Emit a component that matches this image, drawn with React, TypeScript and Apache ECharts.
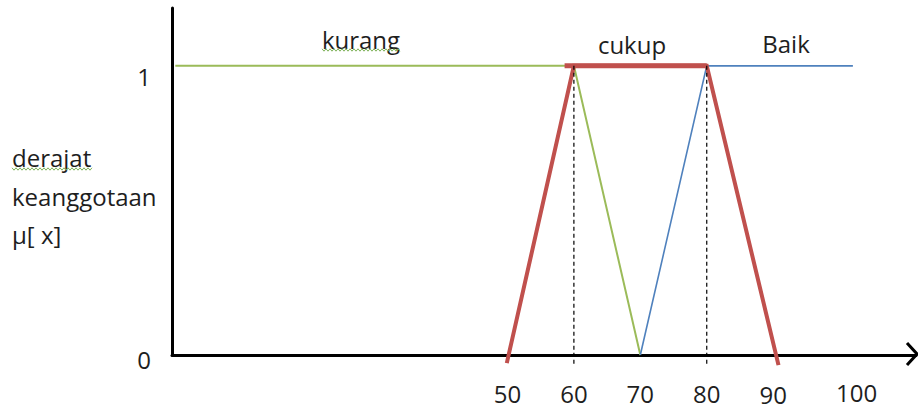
import React, { useEffect, useRef } from "react";
import * as echarts from "echarts";

// Membership functions (x value, degree of membership)
const kurangPoints: [number, number][] = [[0, 1], [60, 1], [70, 0]];
const cukupPoints: [number, number][] = [[49.9, -0.028], [60, 1], [80, 1], [90.8, -0.035]];
const cukupTopPoints: [number, number][] = [[58.6, 1], [80, 1]];
const baikPoints: [number, number][] = [[70, 0], [80, 1], [102, 1]];
const guideXs: number[] = [60, 80];
const guideYs: number[] = [1, -0.035];

const xTicks: number[] = [50, 60, 70, 80, 90, 100];
const yTicks: number[] = [0, 1];
const setNames: string[] = ["kurang", "cukup", "Baik"];
const yNameLines: string[] = ["derajat", "keanggotaan", "μ[ x]"];

export default function App() {
  const ref = useRef<HTMLDivElement>(null);

  useEffect(() => {
    if (!ref.current) return;
    const chart = echarts.init(ref.current, null, { renderer: "svg" });
    const font = "Open Sans";
    const fs = 24;
    const lh = 20;
    const textColor = "#1e1e1e";
    const green = "#9BBB59";
    const red = "#C0504D";
    const blue = "#4F81BD";

    const lineSeries = (name: string, data: [number, number][], color: string, width: number, z: number, type: any = "solid") => ({
      type: "line",
      name,
      data,
      symbol: "none",
      clip: false,
      silent: true,
      z,
      lineStyle: { color, width, type, cap: "butt", join: "miter" },
    });

    const wavy = (x0: number, x1: number, y: number) => {
      const pts: number[][] = [];
      let i = 0;
      for (let x = x0; x <= x1; x += 2, i++) pts.push([x, y + (i % 2 ? 1.2 : -1.2)]);
      return pts;
    };

    const textEl = (text: string, x: number, y: number, align: string) => ({
      type: "text",
      x,
      y,
      z: 10,
      silent: true,
      style: {
        text,
        fill: textColor,
        font: `${fs}px "${font}"`,
        align,
        verticalAlign: "middle",
      },
    });

    const tok = (padding: number[]) => ({ fontFamily: font, fontSize: fs, color: textColor, lineHeight: lh, padding });

    chart.setOption({
      animation: false,
      backgroundColor: "#ffffff",
      grid: { left: 172, right: 2, top: 8, bottom: 55 },
      xAxis: {
        type: "value",
        min: -0.5,
        max: 111.5,
        splitLine: { show: false },
        axisTick: { show: false },
        axisLine: { show: true, onZero: true, lineStyle: { color: "#000", width: 3 } },
        axisLabel: {
          customValues: xTicks,
          margin: 27,
          fontFamily: font,
          fontSize: fs,
          color: textColor,
          formatter: (v: number) => (v === 90 ? `{low|${v}}` : v === 100 ? `{far|${v}}` : `{n|${v}}`),
          rich: {
            n: tok([2, 0, 0, 0]),
            low: tok([5, 0, 0, 0]),
            far: tok([0, 0, 0, 34]),
          },
        },
      },
      yAxis: {
        type: "value",
        min: 0,
        max: 1.2,
        splitLine: { show: false },
        axisTick: { show: false },
        axisLine: { show: true, onZero: false, lineStyle: { color: "#000", width: 3 } },
        axisLabel: {
          customValues: yTicks,
          margin: 21,
          fontFamily: font,
          fontSize: fs,
          color: textColor,
          formatter: (v: number) => (v === 1 ? `{one|${v}}` : `{zero|${v}}`),
          rich: {
            one: tok([22, 0, 0, 0]),
            zero: tok([8, 0, 0, 0]),
          },
        },
      },
      series: [
        lineSeries(setNames[0], kurangPoints, green, 2, 2),
        lineSeries(setNames[2], baikPoints, blue, 1.6, 2),
        lineSeries(setNames[1], cukupPoints, red, 4, 3),
        lineSeries(setNames[1] + "-top", cukupTopPoints, red, 5, 3),
        ...guideXs.map((gx, i) =>
          lineSeries("guide" + i, guideYs.map((gy) => [gx, gy] as [number, number]), "#000", 1.2, 4, [4, 3])
        ),
      ],
      graphic: [
        textEl(setNames[0], 361, 39, "center"),
        textEl(setNames[1], 632, 44, "center"),
        textEl(setNames[2], 786, 43, "center"),
        textEl(yNameLines[0], 12, 157, "left"),
        textEl(yNameLines[1], 12, 196, "left"),
        textEl(yNameLines[2], 12, 234, "left"),
        {
          type: "polyline",
          z: 10,
          silent: true,
          shape: { points: wavy(322, 400, 50) },
          style: { stroke: "#7fb35a", lineWidth: 1, fill: "none" },
        },
        {
          type: "polyline",
          z: 10,
          silent: true,
          shape: { points: wavy(12, 93, 169) },
          style: { stroke: "#7fb35a", lineWidth: 1, fill: "none" },
        },
        {
          type: "polyline",
          z: 10,
          silent: true,
          shape: { points: [[907, 343], [917, 354], [907, 365]] },
          style: { stroke: "#000", lineWidth: 3, fill: "none" },
        },
      ],
    });

    return () => {
      chart.dispose();
    };
  }, []);

  return (
    <div
      ref={ref}
      style={{ position: "absolute", left: 0, top: 0, width: 918, height: 410, background: "#fff" }}
    />
  );
}
